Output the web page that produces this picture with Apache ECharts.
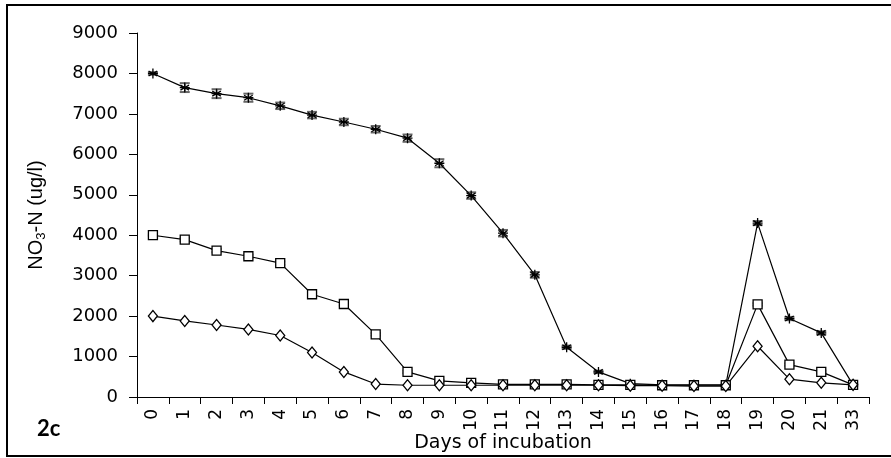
<!DOCTYPE html>
<html>
<head>
<meta charset="utf-8">
<script src="https://cdn.jsdelivr.net/npm/echarts@6/dist/echarts.min.js"></script>
<style>
  html, body { margin: 0; padding: 0; background: #fff; }
  #chart { width: 891px; height: 458px; }
</style>
</head>
<body>
<div id="chart"></div>
<script>
// days on the x axis (category)
const days = ['0', '1', '2', '3', '4', '5', '6', '7', '8', '9', '10', '11', '12', '13', '14', '15', '16', '17', '18', '19', '20', '21', '33']
const yTicks = [0, 1000, 2000, 3000, 4000, 5000, 6000, 7000, 8000, 9000]

// asterisk series
const seriesA = [8000, 7650, 7500, 7400, 7200, 6970, 6800, 6620, 6400, 5780, 4980, 4050, 3020, 1230, 620, 330, 300, 300, 300, 4300, 1940, 1585, 300]
const errA = [30, 110, 110, 100, 80, 80, 80, 80, 90, 100, 80, 80, 70, 40, 30, 30, 30, 30, 30, 50, 40, 40, 30]
// square series
const seriesB = [4000, 3890, 3620, 3480, 3310, 2540, 2300, 1550, 620, 400, 350, 310, 310, 310, 300, 300, 290, 290, 290, 2290, 800, 620, 300]
const errB = [20, 40, 40, 40, 40, 30, 40, 30, 30, 20, 20, 20, 20, 20, 20, 20, 20, 20, 20, 30, 30, 30, 20]
// diamond series
const seriesC = [2000, 1880, 1780, 1670, 1520, 1100, 620, 320, 290, 290, 290, 290, 290, 290, 290, 280, 280, 270, 270, 1255, 440, 350, 300]

const chart = echarts.init(document.getElementById('chart'))

const asterisk = 'path://M0,-5L0,5M-4.3,-2.5L4.3,2.5M-4.3,2.5L4.3,-2.5M-5,0L5,0'

function errData(vals, errs) {
  return vals.map((v, i) => [i, v - errs[i], v + errs[i]])
}

function errorBars(name, vals, errs) {
  return {
    name: name,
    type: 'custom',
    z: 4,
    renderItem: function(params, api) {
      const lo = api.coord([api.value(0), api.value(1)])
      const hi = api.coord([api.value(0), api.value(2)])
      const w = 5
      return {
        type: 'group',
        children: [
          { type: 'line', shape: { x1: lo[0], y1: lo[1], x2: hi[0], y2: hi[1] }, style: { stroke: '#222', lineWidth: 1.5 } },
          { type: 'line', shape: { x1: lo[0] - w, y1: lo[1], x2: lo[0] + w, y2: lo[1] }, style: { stroke: '#666', lineWidth: 2 } },
          { type: 'line', shape: { x1: hi[0] - w, y1: hi[1], x2: hi[0] + w, y2: hi[1] }, style: { stroke: '#666', lineWidth: 2 } }
        ]
      }
    },
    encode: { x: 0, y: [1, 2] },
    data: errData(vals, errs)
  }
}

function lineSeries(name, vals, symbol, size, fill) {
  return {
    name: name,
    type: 'line',
    data: vals,
    symbol: symbol,
    symbolSize: size,
    showAllSymbols: true,
    z: 5,
    lineStyle: { color: '#000', width: 1.2 },
    itemStyle: { color: fill, borderColor: '#000', borderWidth: 1.3 },
    emphasis: { disabled: true }
  }
}

chart.setOption({
  animation: false,
  backgroundColor: '#fff',
  grid: { left: 137, right: 22, top: 33, bottom: 61, containLabel: false, outerBoundsMode: 'none' },
  xAxis: {
    type: 'category',
    data: days,
    boundaryGap: true,
    name: 'Days of incubation',
    nameLocation: 'middle',
    nameGap: 37,
    nameMoveOverlap: false,
    nameTextStyle: { fontFamily: 'DejaVu Sans', fontSize: 19, color: '#000' },
    axisLine: { lineStyle: { color: '#000', width: 1 } },
    axisTick: { show: true, length: 7, alignWithLabel: false, lineStyle: { color: '#000' } },
    axisLabel: { rotate: 90, margin: 12, interval: 0, fontFamily: 'DejaVu Sans', fontSize: 17, color: '#000' },
    splitLine: { show: false }
  },
  yAxis: {
    type: 'value',
    min: yTicks[0],
    max: yTicks[yTicks.length - 1],
    interval: 1000,
    name: '{n|NO}{s|3}{n|-N (ug/l)}',
    nameLocation: 'middle',
    nameGap: 89,
    nameMoveOverlap: false,
    nameTextStyle: {
      color: '#000',
      rich: {
        n: { fontFamily: 'Liberation Sans', fontSize: 20, color: '#000', verticalAlign: 'middle', lineHeight: 24 },
        s: { fontFamily: 'Liberation Sans', fontSize: 13, color: '#000', verticalAlign: 'bottom', lineHeight: 24, padding: [7, 0, 0, 0] }
      }
    },
    axisLine: { show: true, lineStyle: { color: '#000', width: 1 } },
    axisTick: { show: true, length: 8, lineStyle: { color: '#000' } },
    axisLabel: {
      margin: 19,
      fontFamily: 'DejaVu Sans',
      fontSize: 18,
      color: '#000',
      formatter: function(v) { return String(v) }
    },
    splitLine: { show: false }
  },
  graphic: [
    {
      type: 'polyline',
      silent: true,
      shape: { points: [[900, 5], [7, 5], [7, 456], [900, 456]] },
      style: { stroke: '#000', lineWidth: 2, fill: null }
    },
    {
      type: 'text',
      left: 37,
      top: 418,
      style: { text: '2c', font: 'bold 22px Lato', fill: '#000' }
    }
  ],
  series: [
    lineSeries('A', seriesA, asterisk, 10, 'transparent'),
    lineSeries('B', seriesB, 'rect', 9, '#fff'),
    lineSeries('C', seriesC, 'diamond', [9, 11], '#fff'),
    errorBars('A err', seriesA, errA),
    errorBars('B err', seriesB, errB)
  ]
})
</script>
</body>
</html>
